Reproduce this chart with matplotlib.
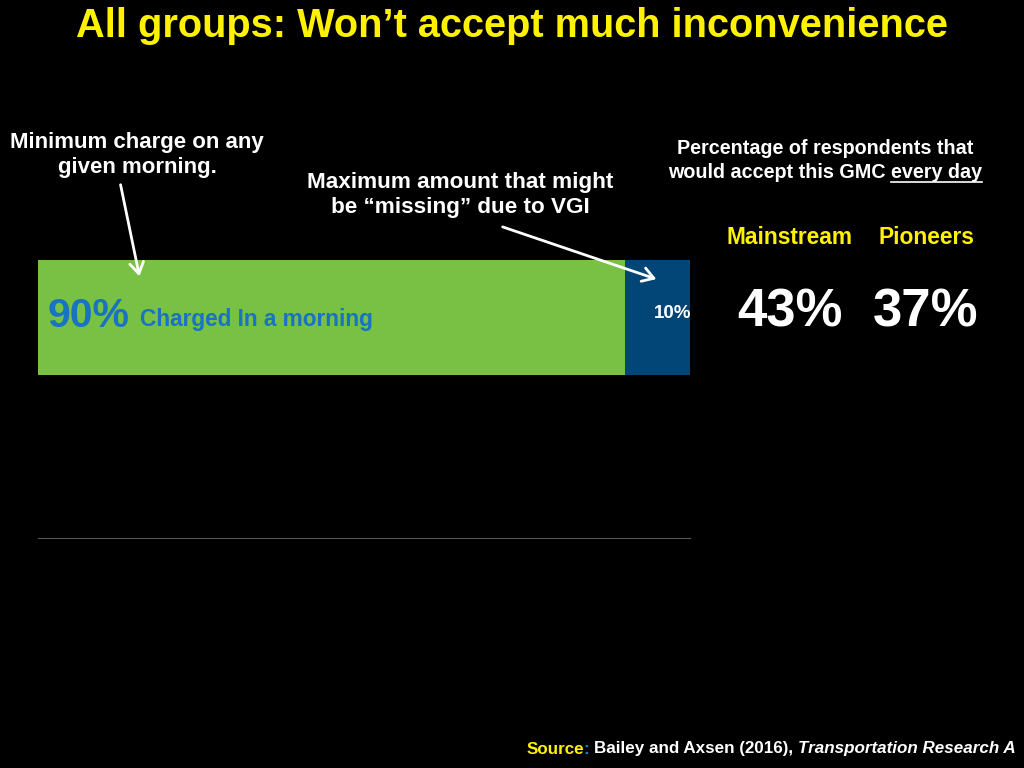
import matplotlib
matplotlib.use("Agg")
import matplotlib.pyplot as plt
from matplotlib.lines import Line2D
from matplotlib.patches import FancyArrowPatch

plt.rcParams['font.family'] = ['Liberation Sans', 'DejaVu Sans']
plt.rcParams['font.weight'] = 'bold'

# ---- data ----
segment_values = [90, 10]
segment_colors = ['#78C144', '#024577']
segment_labels = ['90%', '10%']
segment_caption = 'Charged In a morning'
groups = ['Mainstream', 'Pioneers']
group_accept = ['43%', '37%']

title = 'All groups: Won\u2019t accept much inconvenience'

fig = plt.figure(figsize=(10.24, 7.68), dpi=100)
fig.patch.set_facecolor('black')

W, H = 1024, 768
def fx(px): return px / W
def fy(py): return 1 - py / H

ax = fig.add_axes([fx(38), fy(538), fx(690) - fx(38), fy(230) - fy(538)])
ax.set_facecolor('black')
ax.set_xlim(0, 100)
ax.set_ylim(0, 1)
left = 0
for v, c in zip(segment_values, segment_colors):
    ax.barh(0.716, v, left=left, height=0.374, color=c, edgecolor='none')
    left += v
for s in ['top', 'right', 'left']:
    ax.spines[s].set_visible(False)
ax.spines['bottom'].set_color('#555555')
ax.spines['bottom'].set_linewidth(0.8)
ax.set_xticks([]); ax.set_yticks([])

# labels inside bars
ax.text(1.5, 0.72, segment_labels[0], color='#1873C0', fontsize=29.5, fontweight='bold',
        va='center', ha='left')
ax.text(15.6, 0.71, segment_caption, color='#1873C0', fontsize=16.3, fontweight='bold',
        va='center', ha='left')
ax.text(97.4, 0.728, segment_labels[1], color='white', fontsize=13.5,
        fontweight='bold', va='center', ha='center')

# title
fig.text(0.5, fy(26), title, color='#FFF200', fontsize=28.6, fontweight='bold',
         ha='center', va='center')

# annotations
fig.text(fx(137), fy(155), 'Minimum charge on any\ngiven morning.', color='white',
         fontsize=16, ha='center', va='center', linespacing=1.3)
fig.text(fx(460), fy(195), 'Maximum amount that might\nbe \u201cmissing\u201d due to VGI',
         color='white', fontsize=16.2, ha='center', va='center', linespacing=1.3)

fig.patches.append(FancyArrowPatch(
    (fx(120), fy(182)), (fx(140), fy(279)), transform=fig.transFigure,
    arrowstyle='->,head_length=8,head_width=5', color='white', lw=2))
fig.patches.append(FancyArrowPatch(
    (fx(500), fy(226)), (fx(659), fy(280)), transform=fig.transFigure,
    arrowstyle='->,head_length=8,head_width=5', color='white', lw=2))

# right side text
fig.text(fx(825), fy(148), 'Percentage of respondents that', color='white',
         fontsize=14.2, ha='center', va='center')
fig.canvas.draw()
r = fig.canvas.get_renderer()
t1 = fig.text(0, 0, 'would accept this GMC ', color='white', fontsize=14.2)
t2 = fig.text(0, 0, 'every day', color='white', fontsize=14.2)
w1 = t1.get_window_extent(r).width
w2 = t2.get_window_extent(r).width
t1.remove(); t2.remove()
x0 = 825 - (w1 + w2) / 2
fig.text(fx(x0), fy(172), 'would accept this GMC ', color='white', fontsize=14.2,
         ha='left', va='center')
fig.text(fx(x0 + w1), fy(172), 'every day', color='white', fontsize=14.2,
         ha='left', va='center')
fig.add_artist(Line2D([fx(x0 + w1), fx(x0 + w1 + w2)], [fy(182), fy(182)],
                      color='white', lw=1.2))

xs = [790, 926]
for x, g, a in zip(xs, groups, group_accept):
    fig.text(fx(x), fy(238), g, color='#FFF200', fontsize=16.4, ha='center', va='center')
    fig.text(fx(x), fy(313), a, color='white', fontsize=38, ha='center', va='center')

# source line (right aligned at 1016)
parts = [('Source', '#FFF200', 'normal'), (': ', '#1E7BC4', 'normal'),
         ('Bailey and Axsen (2016), ', 'white', 'normal'),
         ('Transportation Research A', 'white', 'italic')]
tmp = [fig.text(0, 0, s, fontsize=12.25, style=st, color=c) for s, c, st in parts]
fig.canvas.draw()
widths = [t.get_window_extent(r).width for t in tmp]
for t in tmp:
    t.remove()
x = 1016 - sum(widths)
for (s, c, st), w in zip(parts, widths):
    fig.text(fx(x), fy(749), s, fontsize=12.25, style=st, color=c, ha='left', va='center')
    x += w

fig.savefig('out.png', dpi=100, facecolor='black')
